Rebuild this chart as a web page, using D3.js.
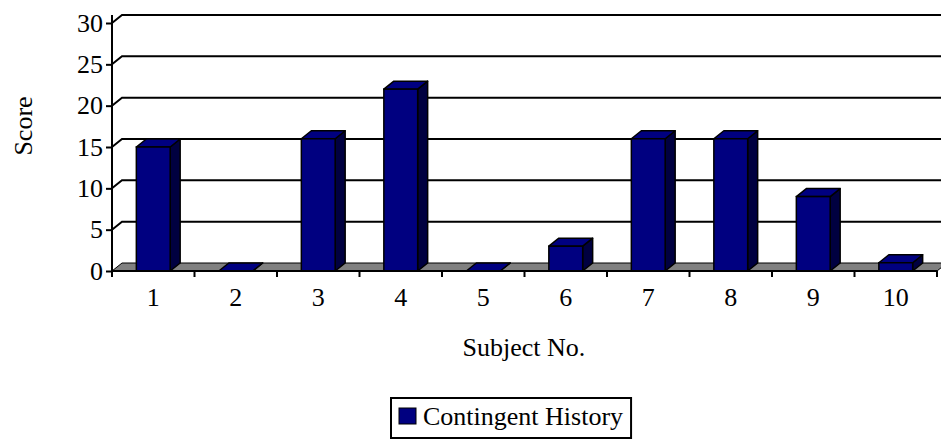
<!DOCTYPE html>
<html>
<head>
<meta charset="utf-8">
<script src="https://cdn.jsdelivr.net/npm/d3@7"></script>
<style>
  html, body { margin: 0; padding: 0; background: #fff; }
  svg { display: block; font-family: "Liberation Serif", "Times New Roman", serif; }
</style>
</head>
<body>
<svg id="chart" width="941" height="441"></svg>
<script>
// Scores per subject
const subjects = ["1", "2", "3", "4", "5", "6", "7", "8", "9", "10"];
const scores = [15, 0, 16, 22, 0, 3, 16, 16, 9, 1];
const yTicks = [0, 5, 10, 15, 20, 25, 30];
const seriesName = "Contingent History";

const svg = d3.select("#chart");
const plotLeft = 112, plotRight = 937, plotTop = 23, plotBase = 271;
const dx = 10, dy = -8;           // oblique depth offset of the 3-D look

const x = d3.scaleBand().domain(subjects).range([plotLeft, plotRight]).paddingInner(0).paddingOuter(0);
const y = d3.scaleLinear().domain([0, 30]).range([plotBase, plotTop]);
const barW = x.bandwidth() * 0.41;

// Back-wall gridlines with the oblique connector to the front axis
const grid = svg.append("g");
yTicks.filter(t => t > 0).forEach(t => {
  grid.append("path")
    .attr("d", `M${plotLeft},${y(t)} L${plotLeft + dx},${y(t) + dy} L${941},${y(t) + dy}`)
    .attr("fill", "none").attr("stroke", "#000").attr("stroke-width", 2);
});

// Floor
svg.append("path")
  .attr("d", `M${plotLeft},${plotBase} L${plotLeft + dx},${plotBase + dy} L${plotRight + dx},${plotBase + dy} L${plotRight},${plotBase} Z`)
  .attr("fill", "#808080").attr("stroke", "#000").attr("stroke-width", 1);

// Bars
const bars = svg.append("g").selectAll("g").data(subjects).join("g");
bars.each(function (s, i) {
  const g = d3.select(this);
  const x0 = x(s) + (x.bandwidth() - barW) / 2, x1 = x0 + barW;
  const yt = y(scores[i]);
  // side face
  g.append("path")
    .attr("d", `M${x1},${yt} L${x1 + dx},${yt + dy} L${x1 + dx},${plotBase + dy} L${x1},${plotBase} Z`)
    .attr("fill", "#000040").attr("stroke", "#000").attr("stroke-width", 1.5).attr("stroke-linejoin", "round");
  // top face
  g.append("path")
    .attr("d", `M${x0},${yt} L${x0 + dx},${yt + dy} L${x1 + dx},${yt + dy} L${x1},${yt} Z`)
    .attr("fill", "#000080").attr("stroke", "#000").attr("stroke-width", 1.5).attr("stroke-linejoin", "round");
  // front face
  if (scores[i] > 0) {
    g.append("rect")
      .attr("x", x0).attr("y", yt).attr("width", barW).attr("height", plotBase - yt)
      .attr("fill", "#000080").attr("stroke", "#000").attr("stroke-width", 1.5);
  }
});

// Value axis
const yAxis = d3.axisLeft(y).tickValues(yTicks).tickSize(6).tickPadding(3);
const ya = svg.append("g").attr("transform", `translate(${plotLeft},0)`).call(yAxis);
ya.select(".domain").attr("d", `M0,${plotTop - 8}V${plotBase}`).attr("stroke", "#000").attr("stroke-width", 2);
ya.selectAll(".tick line").attr("stroke", "#000").attr("stroke-width", 2);
ya.selectAll(".tick text").attr("font-size", 26).attr("fill", "#000")
  .attr("font-family", "'Liberation Serif', serif");

// Category axis: ticks sit between categories
const xAxis = svg.append("g");
xAxis.append("line").attr("x1", plotLeft).attr("x2", plotRight).attr("y1", plotBase).attr("y2", plotBase)
  .attr("stroke", "#000").attr("stroke-width", 2);
const boundaries = subjects.map(s => x(s)).concat([plotRight]);
xAxis.selectAll("line.tk").data(boundaries).join("line").attr("class", "tk")
  .attr("x1", d => d).attr("x2", d => d).attr("y1", plotBase).attr("y2", plotBase + 6)
  .attr("stroke", "#000").attr("stroke-width", 2);
xAxis.selectAll("text").data(subjects).join("text")
  .attr("x", d => x(d) + x.bandwidth() / 2).attr("y", 306)
  .attr("text-anchor", "middle").attr("font-size", 26).text(d => d);

// Axis titles
svg.append("text").attr("x", 524).attr("y", 356).attr("text-anchor", "middle")
  .attr("font-size", 26).text("Subject No.");
svg.append("text").attr("transform", "translate(32,126) rotate(-90)").attr("text-anchor", "middle")
  .attr("font-size", 26).text("Score");

// Legend
const lg = svg.append("g");
const txt = lg.append("text").attr("x", 423).attr("y", 425).attr("font-size", 26).text(seriesName);
const tw = txt.node().getComputedTextLength();
lg.insert("rect", "text").attr("x", 391).attr("y", 398).attr("width", 423 + tw + 8 - 391).attr("height", 40)
  .attr("fill", "#fff").attr("stroke", "#000").attr("stroke-width", 2);
lg.append("rect").attr("x", 399).attr("y", 408).attr("width", 17).attr("height", 16)
  .attr("fill", "#000080").attr("stroke", "#000").attr("stroke-width", 1);
</script>
</body>
</html>
